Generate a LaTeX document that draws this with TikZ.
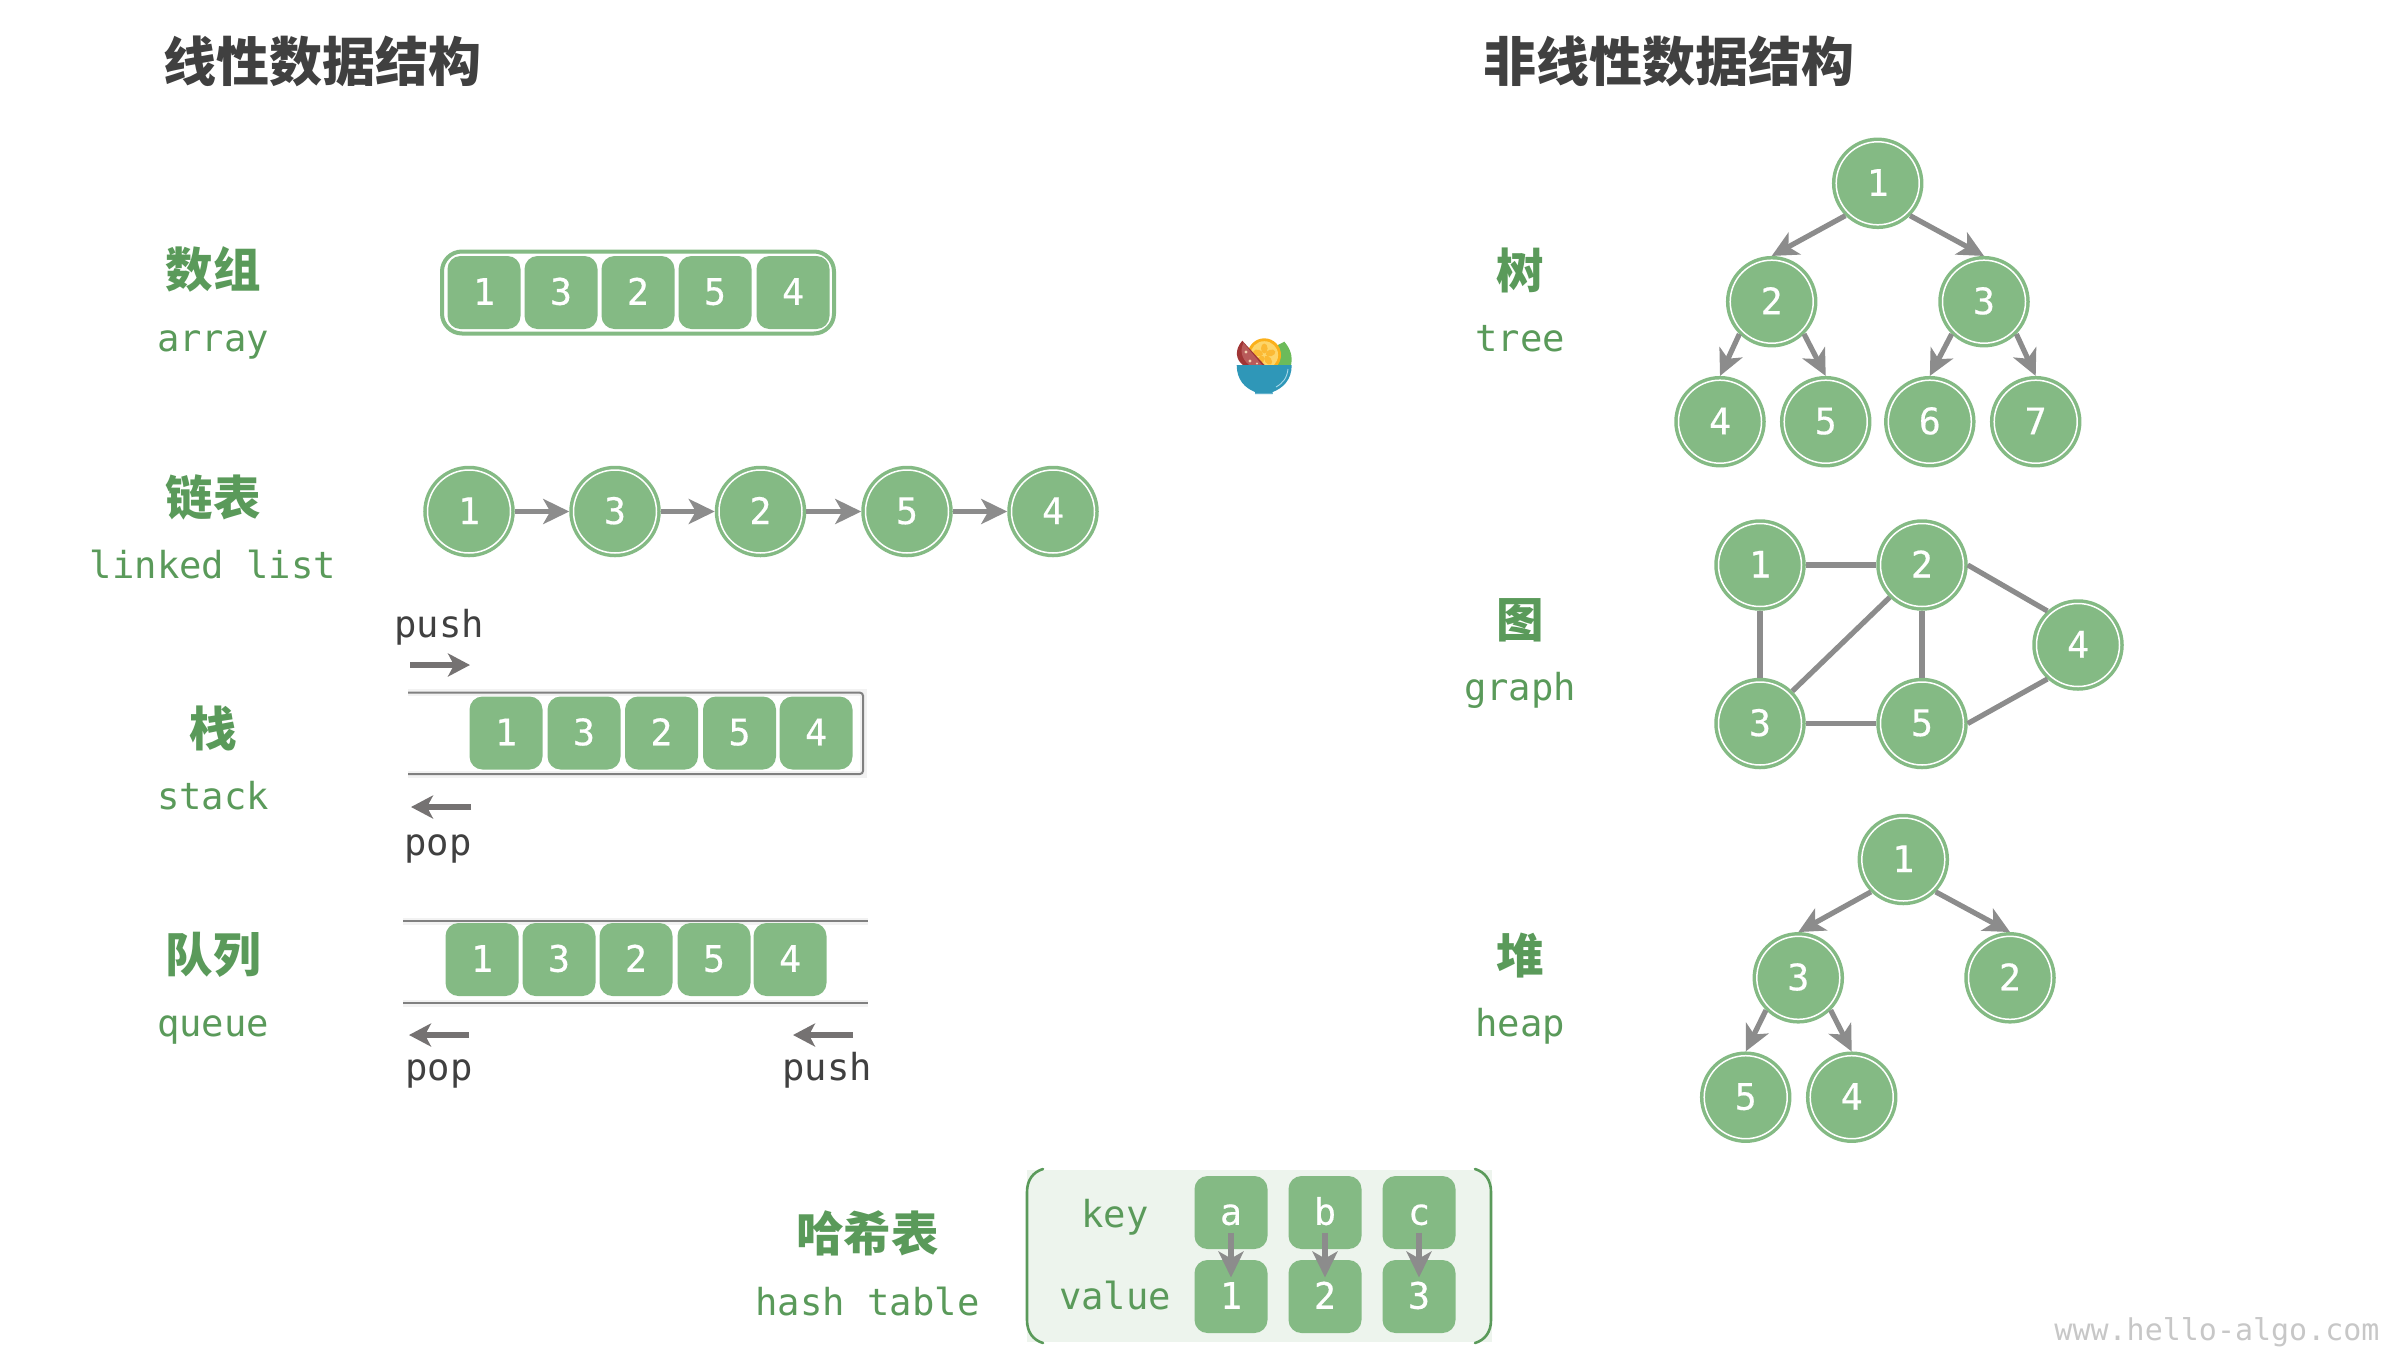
\documentclass[tikz,border=0pt]{standalone}
\usepackage{fontspec}
\setmainfont{DejaVu Sans}
\setmonofont{DejaVu Sans Mono}
\newfontfamily\cellfont{DejaVu Sans Mono}[FakeBold=0.5]
\newfontfamily\cjk{Noto Sans CJK SC}
\usetikzlibrary{arrows.meta}
\definecolor{cellgreen}{HTML}{84BA84}
\definecolor{labelgreen}{HTML}{5A9A5A}
\definecolor{edgegray}{HTML}{8C8C8C}
\definecolor{opgray}{HTML}{757272}
\definecolor{railgray}{HTML}{808080}
\definecolor{titlegray}{HTML}{404040}
\definecolor{hashbg}{HTML}{EDF4ED}
\definecolor{logoleaf}{HTML}{6CBB5A}
\definecolor{logoorange}{HTML}{FBB01B}
\definecolor{logopulp}{HTML}{FDD56A}
\definecolor{logopetal}{HTML}{FBB934}
\definecolor{logored}{HTML}{A03535}
\definecolor{logoflesh}{HTML}{B85A5A}
\definecolor{logoseed}{HTML}{F2D0B0}
\definecolor{logobowl}{HTML}{2F97B8}
\definecolor{logobase}{HTML}{62B1CC}
\definecolor{logoshine}{HTML}{A8D8E8}
\newcommand{\fsz}[1]{\fontsize{#1}{#1}\selectfont}
\tikzset{
  cellbox/.style={rectangle,rounded corners=13pt,fill=cellgreen,text=white,minimum width=73pt,minimum height=73pt,inner sep=0pt,text height=26pt,text depth=1.5pt,font=\cellfont\fsz{36.5}},
  ringnode/.style={circle,fill=cellgreen,draw=cellgreen,line width=3.5pt,double=white,double distance=1.5pt,text=white,minimum size=83pt,inner sep=0pt,outer sep=4.25pt,text height=26pt,text depth=1pt,font=\cellfont\fsz{36.5}},
  titletext/.style={text=titlegray,inner sep=0pt,font=\cjk\bfseries\fsz{53}},
  cnlabel/.style={text=labelgreen,inner sep=0pt,font=\cjk\bfseries\fsz{47.5}},
  enlabel/.style={text=labelgreen,anchor=base,inner sep=0pt,font=\ttfamily\fsz{37.2}},
  oplabel/.style={text=titlegray,anchor=base,inner sep=0pt,font=\ttfamily\fsz{37.2}},
  edgeline/.style={draw=edgegray,line width=5.2pt},
  arrowline/.style={edgeline,-{Stealth[length=26pt,width=25pt,inset=7pt]}},
  oparrow/.style={draw=opgray,line width=5.2pt,-{Stealth[length=22pt,width=23pt,inset=6pt]}},
  railline/.style={draw=railgray,line width=2pt},
  railglow/.style={draw=black,opacity=0.05,line width=7pt},
  bracket/.style={draw=labelgreen,line width=2.6pt,line cap=round},
}
\begin{document}
\begin{tikzpicture}[x=1pt,y=-1pt]
\useasboundingbox (0,0) rectangle (2402,1366);
% titles
\node[titletext] (tl) at (322,61) {线性数据结构};
\node[titletext] (tr) at (1668.5,61) {非线性数据结构};
% left labels
\node[cnlabel] (la1) at (213,269) {数组};
\node[enlabel] (la2) at (213,351) {array};
\node[cnlabel] (lb1) at (213,497) {链表};
\node[enlabel] (lb2) at (213,578) {linked list};
\node[cnlabel] (lc1) at (213,728) {栈};
\node[enlabel] (lc2) at (213,809) {stack};
\node[cnlabel] (ld1) at (213,955) {队列};
\node[enlabel] (ld2) at (213,1036) {queue};
% right labels
\node[cnlabel] (ra1) at (1520,270) {树};
\node[enlabel] (ra2) at (1520,351) {tree};
\node[cnlabel] (rb1) at (1520,620) {图};
\node[enlabel] (rb2) at (1520,700) {graph};
\node[cnlabel] (rc1) at (1520,956) {堆};
\node[enlabel] (rc2) at (1520,1036) {heap};
% array
\node[draw=cellgreen,line width=4pt,rounded corners=20pt,fill=white,minimum width=392pt,minimum height=82pt,inner sep=0pt] (arrbox) at (638,292.5) {};
\node[cellbox] (a1) at (484,292.5) {1};
\node[cellbox] (a2) at (561,292.5) {3};
\node[cellbox] (a3) at (638,292.5) {2};
\node[cellbox] (a4) at (715,292.5) {5};
\node[cellbox] (a5) at (793,292.5) {4};
% linked list
\node[ringnode] (l1) at (469,511.5) {1};
\node[ringnode] (l2) at (615,511.5) {3};
\node[ringnode] (l3) at (760.5,511.5) {2};
\node[ringnode] (l4) at (907,511.5) {5};
\node[ringnode] (l5) at (1053,511.5) {4};
\draw[arrowline] (l1) -- (l2);
\draw[arrowline] (l2) -- (l3);
\draw[arrowline] (l3) -- (l4);
\draw[arrowline] (l4) -- (l5);
% stack
\coordinate (st1) at (408,692.7);
\coordinate (st2) at (863,692.7);
\coordinate (st3) at (863,774);
\coordinate (st4) at (408,774);
\draw[railglow] (st1) -- (st2) -- (st3) -- (st4);
\draw[railline,rounded corners=3pt] (st1) -- (st2) -- (st3) -- (st4);
\node[cellbox] (s1) at (506,733) {1};
\node[cellbox] (s2) at (584,733) {3};
\node[cellbox] (s3) at (661.5,733) {2};
\node[cellbox] (s4) at (739.5,733) {5};
\node[cellbox] (s5) at (816,733) {4};
\node[oplabel] (spush) at (439,637) {push};
\node[oplabel] (spop) at (438,855) {pop};
\coordinate (spa) at (410,665);
\coordinate (spb) at (470,665);
\coordinate (soa) at (471,807);
\coordinate (sob) at (411,807);
\draw[oparrow] (spa) -- (spb);
\draw[oparrow] (soa) -- (sob);
% queue
\coordinate (q1) at (403,921);
\coordinate (q2) at (868,921);
\coordinate (q3) at (403,1003);
\coordinate (q4) at (868,1003);
\draw[railglow] (q1) -- (q2);
\draw[railglow] (q3) -- (q4);
\draw[railline] (q1) -- (q2);
\draw[railline] (q3) -- (q4);
\node[cellbox] (qc1) at (482,959.5) {1};
\node[cellbox] (qc2) at (559,959.5) {3};
\node[cellbox] (qc3) at (636,959.5) {2};
\node[cellbox] (qc4) at (714,959.5) {5};
\node[cellbox] (qc5) at (790,959.5) {4};
\node[oplabel] (qpop) at (439,1080) {pop};
\node[oplabel] (qpush) at (827,1080) {push};
\coordinate (qoa) at (469,1035);
\coordinate (qob) at (409,1035);
\coordinate (qpa) at (853,1035);
\coordinate (qpb) at (793,1035);
\draw[oparrow] (qoa) -- (qob);
\draw[oparrow] (qpa) -- (qpb);
% hash table
\node[cnlabel] (h1) at (867.5,1233.5) {哈希表};
\node[enlabel] (h2) at (867.5,1315) {hash table};
\node[fill=hashbg,minimum width=465pt,minimum height=172pt,inner sep=0pt] (hbg) at (1259.5,1256) {};
\coordinate (bla) at (1043,1169);
\coordinate (blb) at (1027,1192);
\coordinate (blc) at (1027,1320);
\coordinate (bld) at (1043,1343);
\coordinate (bra) at (1475,1169);
\coordinate (brb) at (1491,1192);
\coordinate (brc) at (1491,1320);
\coordinate (brd) at (1475,1343);
\draw[bracket] (bla) .. controls (1033,1172) and (1027,1180) .. (blb) -- (blc) .. controls (1027,1332) and (1033,1340) .. (bld);
\draw[bracket] (bra) .. controls (1485,1172) and (1491,1180) .. (brb) -- (brc) .. controls (1491,1332) and (1485,1340) .. (brd);
\node[enlabel] (hk) at (1115,1227) {key};
\node[enlabel] (hv) at (1115,1309) {value};
\node[cellbox] (ka) at (1231,1212.5) {a};
\node[cellbox] (kb) at (1325,1212.5) {b};
\node[cellbox] (kc) at (1419,1212.5) {c};
\node[cellbox] (v1) at (1231,1296.5) {1};
\node[cellbox] (v2) at (1325,1296.5) {2};
\node[cellbox] (v3) at (1419,1296.5) {3};
\draw[arrowline,shorten <=20pt,shorten >=19pt] (ka.center) -- (v1.center);
\draw[arrowline,shorten <=20pt,shorten >=19pt] (kb.center) -- (v2.center);
\draw[arrowline,shorten <=20pt,shorten >=19pt] (kc.center) -- (v3.center);
% tree
\node[ringnode] (t1) at (1877.7,183.3) {1};
\node[ringnode] (t2) at (1771.7,301.7) {2};
\node[ringnode] (t3) at (1984,301.7) {3};
\node[ringnode] (t4) at (1720,421.7) {4};
\node[ringnode] (t5) at (1825.7,421.7) {5};
\node[ringnode] (t6) at (1929.8,421.7) {6};
\node[ringnode] (t7) at (2035.7,421.7) {7};
\draw[arrowline] (t1.-135) -- (t2.north);
\draw[arrowline] (t1.-45) -- (t3.north);
\draw[arrowline] (t2.-135) -- (t4.north);
\draw[arrowline] (t2.-45) -- (t5.north);
\draw[arrowline] (t3.-135) -- (t6.north);
\draw[arrowline] (t3.-45) -- (t7.north);
% graph
\node[ringnode] (g1) at (1760,565) {1};
\node[ringnode] (g2) at (1922,565) {2};
\node[ringnode] (g3) at (1760,723.5) {3};
\node[ringnode] (g5) at (1922,723.5) {5};
\node[ringnode] (g4) at (2078,645) {4};
\draw[edgeline] (g1.east) -- (g2.west);
\draw[edgeline] (g1.south) -- (g3.north);
\draw[edgeline] (g2.-135) -- (g3.45);
\draw[edgeline] (g2.south) -- (g5.north);
\draw[edgeline] (g3.east) -- (g5.west);
\draw[edgeline] (g2.east) -- (g4.132);
\draw[edgeline] (g5.east) -- (g4.-132);
% heap
\node[ringnode] (p1) at (1903.3,859.5) {1};
\node[ringnode] (p3) at (1798.3,977.8) {3};
\node[ringnode] (p2) at (2010,977.8) {2};
\node[ringnode] (p5) at (1745.7,1097.2) {5};
\node[ringnode] (p4) at (1851.7,1097.2) {4};
\draw[arrowline] (p1.-135) -- (p3.north);
\draw[arrowline] (p1.-45) -- (p2.north);
\draw[arrowline] (p3.-135) -- (p5.north);
\draw[arrowline] (p3.-45) -- (p4.north);
% watermark
\node[anchor=base,inner sep=0pt,text=black!22,font=\ttfamily\fsz{30}] (wm) at (2217,1340) {www.hello-algo.com};
% logo
\fill[logoleaf] (1284.3,341.7) .. controls (1290,348) and (1293,356) .. (1291,365) -- (1276,365) -- (1276,346) -- cycle;
\fill[logoorange] (1264.3,355) circle (16.7);
\fill[logopulp] (1264.3,355) circle (13.8);
\foreach \ang in {18,90,162,234,306}{
  \fill[logopetal,rotate around={\ang:(1264.3,355)}] (1270.8,355) ellipse (5 and 3.3);
}
\fill[logored] (1242.3,340.7) -- (1264.5,365) -- (1243,365) .. controls (1236,360) and (1234,350) .. cycle;
\fill[logoflesh] (1243.5,343) -- (1262,365) -- (1249,365) .. controls (1241,358) and (1240,350) .. cycle;
\fill[logoseed] (1246,352) circle (1.6) (1250,361) circle (1.6) (1257,363.5) circle (1.2);
\fill[logobowl] (1236.7,365) -- (1291.7,365) .. controls (1291.7,380) and (1283,388) .. (1272.7,392) -- (1272.7,394) -- (1255,394) -- (1255,392) .. controls (1245,388) and (1236.7,380) .. cycle;
\fill[logobase] (1255,392.5) rectangle (1272.7,394);
\draw[logoshine,line width=0.9pt] (1288,369) .. controls (1287,378) and (1283,383) .. (1276,387);
\end{tikzpicture}
\end{document}
